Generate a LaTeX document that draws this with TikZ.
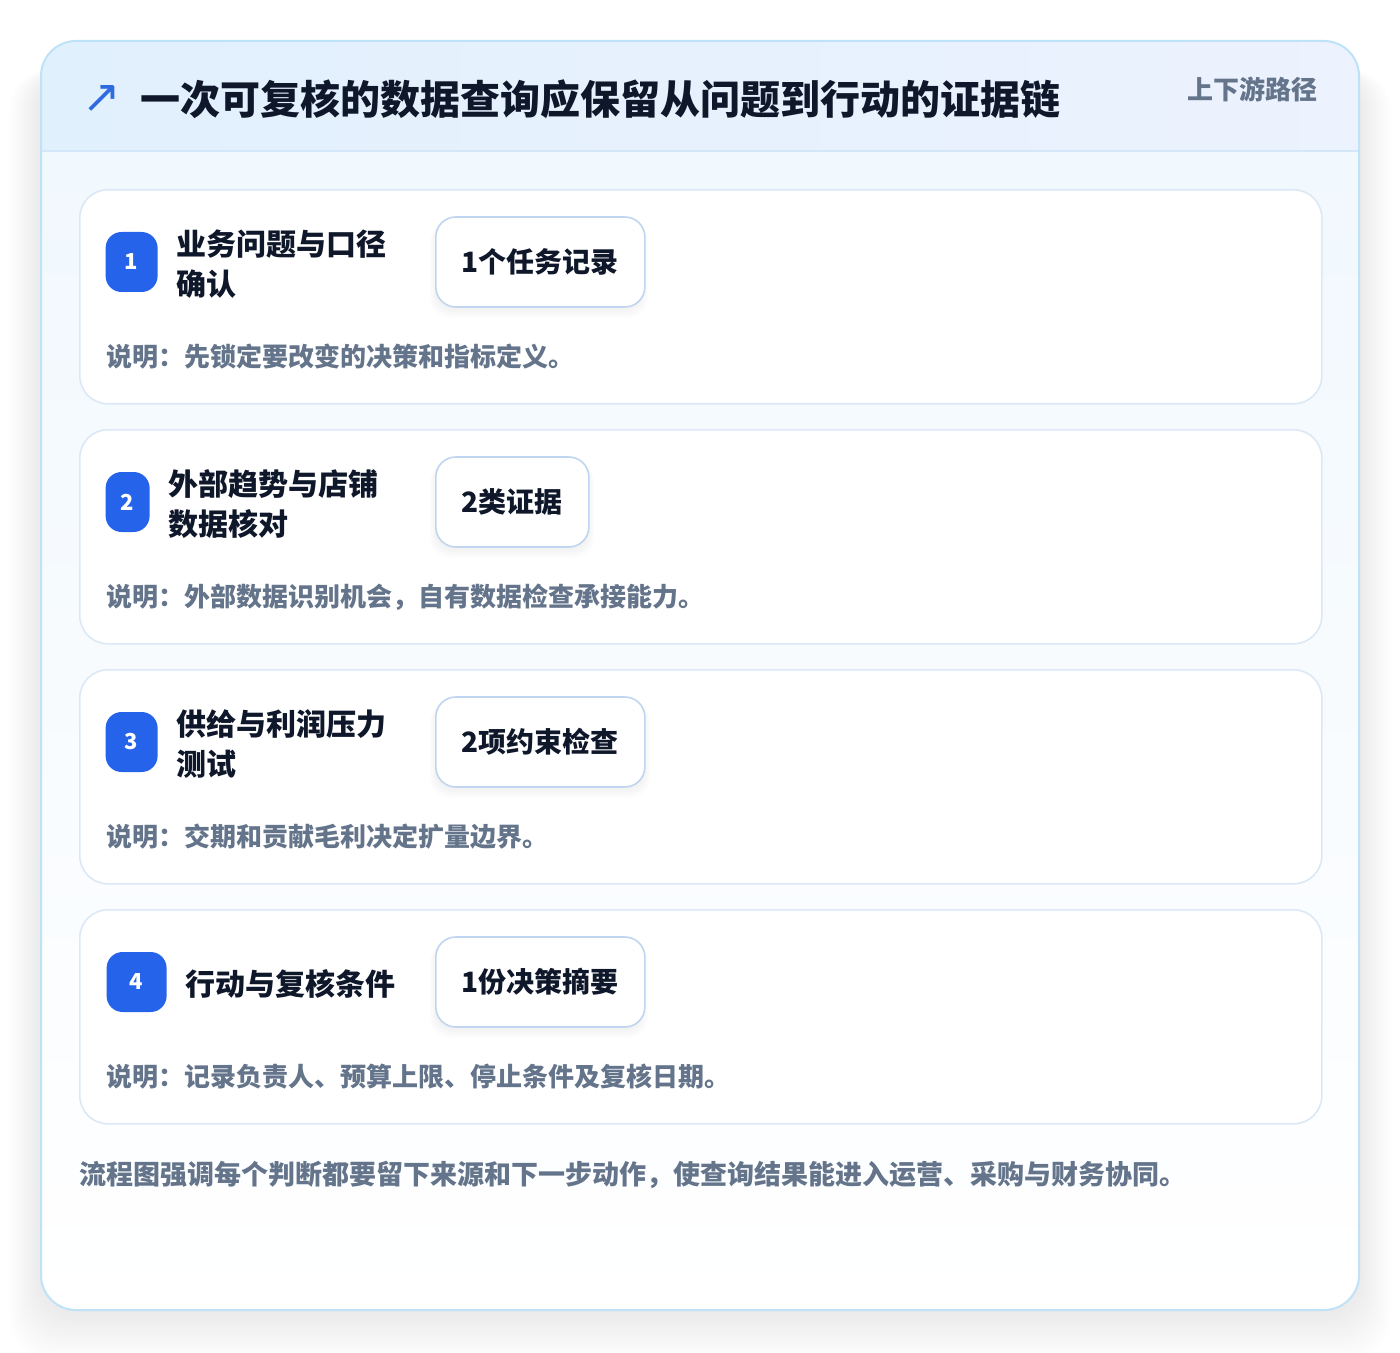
\documentclass[tikz,border=0pt]{standalone}
\usepackage{fontspec}
\setmainfont{Noto Sans CJK SC}
\newfontfamily\symfont{DejaVu Sans}
\usetikzlibrary{positioning,shadows}

\definecolor{ink}{HTML}{0F172A}
\definecolor{muted}{HTML}{64748B}
\definecolor{badgeblue}{HTML}{2563EB}
\definecolor{arrowblue}{HTML}{2F6BE0}
\definecolor{cardline}{HTML}{DCE8F6}
\definecolor{countline}{HTML}{BFD5F0}
\definecolor{frameline}{HTML}{BEE3F8}
\definecolor{headl}{HTML}{E1F0FD}
\definecolor{headr}{HTML}{ECF2FE}
\definecolor{headrule}{HTML}{D4E7F8}
\definecolor{bodytop}{HTML}{F1F8FE}

\tikzset{
  card/.style={draw=cardline, fill=white, rounded corners=14pt, line width=0.8pt, inner sep=0pt},
  badge/.style={fill=badgeblue, text=white, rounded corners=8pt, minimum height=30pt, inner sep=0pt,
    font=\fontsize{11}{13}\selectfont\bfseries},
  steptitle/.style={anchor=west, inner sep=0pt, align=left, text=ink,
    font=\fontsize{15}{20}\selectfont\bfseries},
  countbox/.style={draw=countline, fill=white, rounded corners=10pt, minimum height=45pt, inner xsep=13pt,
    line width=0.8pt, text=ink, font=\fontsize{14}{16}\selectfont\bfseries},
  desc/.style={anchor=west, inner sep=0pt, text=muted, font=\fontsize{13}{15}\selectfont\bfseries},
}

\begin{document}
\begin{tikzpicture}[x=0.5pt,y=-0.5pt]
    \useasboundingbox (0,0) rectangle (1400,1352);
    \fill[white] (0,0) rectangle (1400,1352);
    % soft shadow under the frame
    \foreach \k in {1,...,20}
        \fill[black, opacity=0.004, rounded corners=20pt] (41-1.6*\k,70) rectangle (1359+1.6*\k,1312+2.4*\k);
    %
    \begin{scope}
        \clip[rounded corners=17.5pt] (41,41) rectangle (1359,1310);
        \fill[top color=bodytop, bottom color=white] (41,151) rectangle (1359,1310);
        \fill[left color=headl, right color=headr] (41,41) rectangle (1359,151);
        \draw[headrule, line width=1pt] (41,151) -- (1359,151);
    \end{scope}
    \draw[frameline, line width=1pt, rounded corners=17.5pt] (41,41) rectangle (1359,1310);
    %
    \node[text=arrowblue, font=\symfont\fontsize{23}{23}\selectfont] (icon) at (102,99) {↗};
    \node[anchor=west, inner sep=0pt, text=ink, font=\fontsize{20}{24}\selectfont\bfseries] (title) at (140,99)
        {一次可复核的数据查询应保留从问题到行动的证据链};
    \node[anchor=east, inner sep=0pt, text=muted, font=\fontsize{13}{15}\selectfont\bfseries] (pathtag) at (1318,89)
        {上下游路径};
    %
    \foreach \i/\ttl/\tx/\bw/\cnt/\cw/\dsc in {
        1/{业务问题与口径\\确认}/176/26/{1个任务记录}/208/{说明：先锁定要改变的决策和指标定义。},
        2/{外部趋势与店铺\\数据核对}/168/22/{2类证据}/154/{说明：外部数据识别机会，自有数据检查承接能力。},
        3/{供给与利润压力\\测试}/176/26/{2项约束检查}/210/{说明：交期和贡献毛利决定扩量边界。},
        4/{行动与复核条件}/185/30/{1份决策摘要}/208/{说明：记录负责人、预算上限、停止条件及复核日期。}} {
        \pgfmathsetmacro\cardtop{189+240*(\i-1)}
        \node[card, minimum width=621pt, minimum height=107pt, anchor=north west] (card\i) at (79,\cardtop) {};
        \node[badge, minimum width=\bw pt, anchor=east] (badge\i) at (\tx-18,\cardtop+73) {\i};
        \node[steptitle] (steptitle\i) at (\tx,\cardtop+75) {\ttl};
        % faint shadow under the count box
        \foreach \s in {1,...,6}
            \fill[black, opacity=0.006, rounded corners=10pt] (436-\s,\cardtop+32) rectangle (434+\cw+\s,\cardtop+120+1.5*\s);
        \node[countbox, anchor=west] (count\i) at (435,\cardtop+73) {\cnt};
        \node[desc] (desc\i) at (106,\cardtop+168) {\dsc};
    }
    %
    \node[anchor=west, inner sep=0pt, text=muted, font=\fontsize{13.5}{15}\selectfont\bfseries] (note) at (79,1175)
        {流程图强调每个判断都要留下来源和下一步动作，使查询结果能进入运营、采购与财务协同。};
\end{tikzpicture}
\end{document}
